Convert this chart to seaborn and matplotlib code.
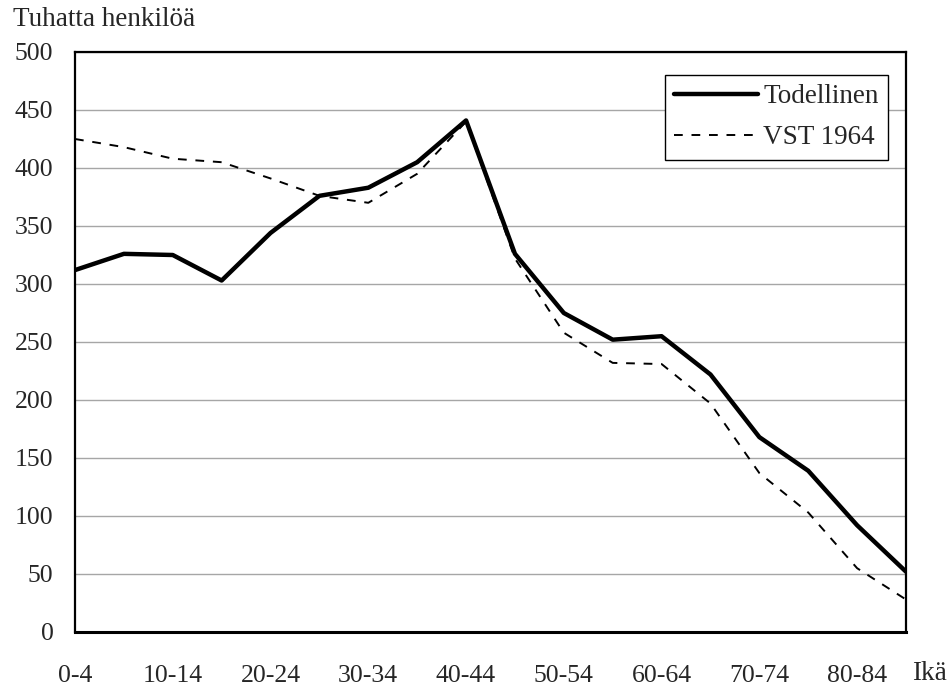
import pandas as pd
import matplotlib
matplotlib.use("Agg")
import matplotlib.pyplot as plt
from matplotlib.lines import Line2D
import seaborn as sns

# ikaryhmat ja arvot (tuhatta henkiloa)
ikaryhmat = ["0-4", "5-9", "10-14", "15-19", "20-24", "25-29", "30-34", "35-39",
             "40-44", "45-49", "50-54", "55-59", "60-64", "65-69", "70-74",
             "75-79", "80-84", "85-89"]
todellinen = [312, 326, 325, 303, 344, 376, 383, 405, 441, 326, 275, 252, 255,
              222, 168, 139, 92, 52]
vst_1964 = [425, 418, 408, 405, 391, 376, 370, 395, 440, 322, 258, 232, 231,
            197, 137, 103, 55, 28]
ytikit = [0, 50, 100, 150, 200, 250, 300, 350, 400, 450, 500]

df = pd.DataFrame({
    "ika": list(range(len(ikaryhmat))) * 2,
    "arvo": todellinen + vst_1964,
    "sarja": ["Todellinen"] * len(ikaryhmat) + ["VST 1964"] * len(ikaryhmat),
})

sns.set_style("white")
plt.rcParams["font.family"] = ["Liberation Serif", "DejaVu Serif"]

fig = plt.figure(figsize=(9.49, 6.88), dpi=100)
ax = fig.add_axes([75 / 949, 1 - 632 / 688, (906 - 75) / 949, (632 - 52) / 688])

viiva = (4.5, 4.5)
sns.lineplot(data=df, x="ika", y="arvo", hue="sarja", style="sarja",
             palette=["black", "black"], dashes={"Todellinen": "", "VST 1964": viiva},
             ax=ax, legend=False)
ax.lines[0].set_linewidth(3.2)
ax.lines[1].set_linewidth(1.4)
ax.lines[0].set_zorder(3)

ax.set_xlim(0, len(ikaryhmat) - 1)
ax.set_ylim(0, 500)
ax.set_yticks(ytikit)
ax.set_xticks(range(len(ikaryhmat)))
ax.set_xticklabels([l if i % 2 == 0 else "" for i, l in enumerate(ikaryhmat)])
ax.set_xlabel("")
ax.set_ylabel("")

ax.grid(axis="y", color="#a6a6a6", linewidth=1.0)
ax.set_axisbelow(True)
for s in ax.spines.values():
    s.set_color("black")
    s.set_linewidth(1.6)
ax.spines["bottom"].set_linewidth(2.2)

ax.tick_params(axis="y", direction="out", length=6.5, width=1, color="black", pad=9, labelsize=18.5)
ax.tick_params(axis="x", direction="inout", length=13, width=1, color="#555555", pad=17, labelsize=18.5)

fig.text(13 / 949, 1 - 19 / 688, "Tuhatta henkilöä", fontsize=19.5, va="center", ha="left")
fig.text(912 / 949, 1 - 673 / 688, "Ikä", fontsize=19.5, va="center", ha="left")

kahvat = [Line2D([], [], color="black", linewidth=3.2),
          Line2D([], [], color="black", linewidth=1.4, dashes=viiva)]
leg = ax.legend(kahvat, ["Todellinen", "VST 1964"], loc="upper right",
                bbox_to_anchor=(888 / 949, 1 - 75 / 688), bbox_transform=fig.transFigure,
                frameon=True, fancybox=False, edgecolor="black", framealpha=1,
                handlelength=3.1, handletextpad=0.18, borderpad=0.35, labelspacing=0.58,
                fontsize=19.5, borderaxespad=0)
leg.get_frame().set_linewidth(1.0)

fig.savefig("out.png", dpi=100)
